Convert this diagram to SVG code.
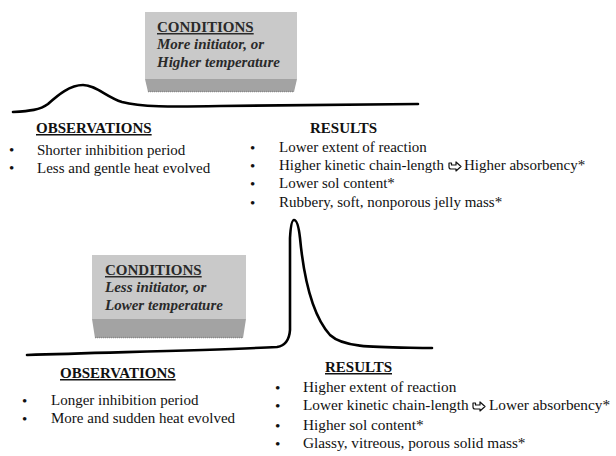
<svg xmlns="http://www.w3.org/2000/svg" width="616" height="456" viewBox="0 0 616 456">
<style>
text{font-family:"Liberation Serif","Times New Roman",serif;fill:#111}
.t{font-size:15px}
.t2{font-size:15.3px}
.h{font-size:15px;font-weight:bold}
.u{text-decoration:underline}
.c{font-size:15px;font-weight:bold;fill:#2a2a2a}
.ci{font-size:15px;font-weight:bold;font-style:italic;fill:#2a2a2a}
.face{fill:#c9c9c9}
.front{fill:#a3a3a3}
.edge{fill:none;stroke:#8a8a8a;stroke-width:1.5;stroke-dasharray:1 1}
.curve{fill:none;stroke:#000;stroke-width:2.6;stroke-linecap:round;stroke-linejoin:round}
.arr{fill:#fff;stroke:#111;stroke-width:1.2;stroke-linejoin:round}
</style>
<defs>
<path id="harrow" class="arr" d="M0,-3 V1 Q0,3 2,3 H7 V5 L12,0.5 L7,-4 V-1 H2.5 V-3 Z"/>
</defs>

<g id="connectors">
<path class="curve" d="M13,112 C30,111 40,110 48,104 C58,95 70,85 83,85 C96,85 106,97 122,102 C140,107 170,107 220,106 L418,104"/>
<path class="curve" d="M27,355 C120,352 220,350 277,347 Q289,345 290,330 L290,238 Q291,220 294,220 Q298,220 300,238 C304,280 312,315 330,335 C345,349 380,347 432,348"/>
</g>

<g id="conditions-top">
<rect class="face" x="145" y="12" width="152" height="67"/>
<path class="front" d="M145,79 H297 L294,92 H148 Z"/>
<line class="edge" x1="148" y1="91.5" x2="294" y2="91.5"/>
<text class="c u" x="157" y="32">CONDITIONS</text>
<text class="ci" x="157" y="49">More initiator, or</text>
<text class="ci" x="157" y="67">Higher temperature</text>
</g>

<g id="observations-top">
<text class="h u" x="36" y="133">OBSERVATIONS</text>
<text class="t" x="9" y="155">•</text>
<text class="t" x="37" y="155">Shorter inhibition period</text>
<text class="t" x="9" y="173">•</text>
<text class="t" x="37" y="173">Less and gentle heat evolved</text>
</g>

<g id="results-top">
<text class="h" x="310" y="133">RESULTS</text>
<text class="t" x="250" y="153">•</text>
<text class="t" x="279" y="152">Lower extent of reaction</text>
<text class="t" x="250" y="171">•</text>
<text class="t" x="279" y="170">Higher kinetic chain-length</text>
<use href="#harrow" x="449" y="166"/>
<text class="t" x="464" y="170">Higher absorbency*</text>
<text class="t" x="250" y="189">•</text>
<text class="t" x="279" y="188">Lower sol content*</text>
<text class="t" x="250" y="208">•</text>
<text class="t" x="279" y="207">Rubbery, soft, nonporous jelly mass*</text>
</g>

<g id="conditions-bottom">
<rect class="face" x="92" y="255" width="154" height="64"/>
<path class="front" d="M92,319 H246 L243,338 H95 Z"/>
<line class="edge" x1="95" y1="337.5" x2="243" y2="337.5"/>
<text class="c u" x="105" y="275">CONDITIONS</text>
<text class="ci" x="105" y="292">Less initiator, or</text>
<text class="ci" x="105" y="310">Lower temperature</text>
</g>

<g id="observations-bottom">
<text class="h u" x="60" y="378">OBSERVATIONS</text>
<text class="t" x="22" y="406">•</text>
<text class="t" x="51" y="405">Longer inhibition period</text>
<text class="t" x="22" y="424">•</text>
<text class="t" x="51" y="423">More and sudden heat evolved</text>
</g>

<g id="results-bottom">
<text class="h u" x="325" y="372">RESULTS</text>
<text class="t2" x="275" y="393">•</text>
<text class="t2" x="303" y="392">Higher extent of reaction</text>
<text class="t2" x="275" y="411">•</text>
<text class="t2" x="303" y="410">Lower kinetic chain-length</text>
<use href="#harrow" x="473" y="406"/>
<text class="t2" x="489" y="410">Lower absorbency*</text>
<text class="t2" x="275" y="431">•</text>
<text class="t2" x="303" y="430">Higher sol content*</text>
<text class="t2" x="275" y="449">•</text>
<text class="t2" x="303" y="448">Glassy, vitreous, porous solid mass*</text>
</g>
</svg>
